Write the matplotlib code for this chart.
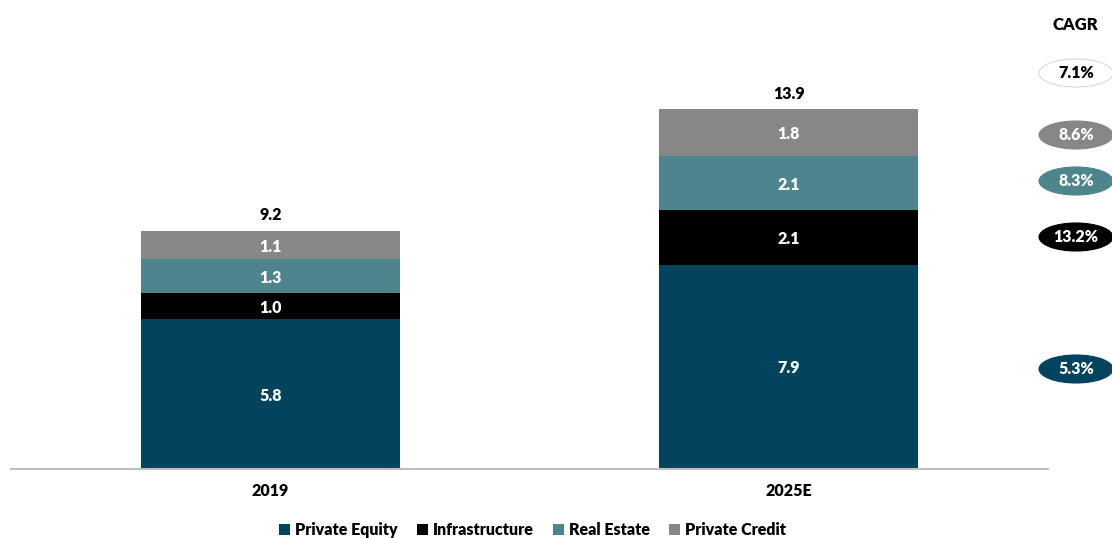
import matplotlib
matplotlib.use("Agg")
import matplotlib.pyplot as plt
from matplotlib.patches import Ellipse

plt.rcParams['font.family'] = ['Lato', 'DejaVu Sans']

years = ["2019", "2025E"]
series = ["Private Equity", "Infrastructure", "Real Estate", "Private Credit"]
private_equity = [5.8, 7.9]
infrastructure = [1.0, 2.1]
real_estate = [1.3, 2.1]
private_credit = [1.1, 1.8]
totals = [9.2, 13.9]
cagr_total = "7.1%"
cagr_series = ["5.3%", "13.2%", "8.3%", "8.6%"]
colors = ["#02435E", "#000000", "#4E858C", "#878787"]

W, H = 1112, 538
FW = "heavy"
fig = plt.figure(figsize=(W / 100, H / 100), dpi=100)
ax = fig.add_axes([11 / W, (H - 469) / H, (1048 - 11) / W, (469 - 20) / H])

values = [private_equity, infrastructure, real_estate, private_credit]
x = list(range(len(years)))
bottoms = [0.0] * len(years)
for name, vals, col in zip(series, values, colors):
    ax.bar(x, vals, width=0.5, bottom=bottoms, color=col, label=name)
    for i, v in enumerate(vals):
        ax.text(x[i], bottoms[i] + v / 2 - 0.06, f"{v:.1f}", ha="center", va="center",
                color="white", fontsize=11.5, fontweight=FW)
    bottoms = [b + v for b, v in zip(bottoms, vals)]

for i, t in enumerate(totals):
    ax.text(x[i], t + 0.3, f"{t:.1f}", ha="center", va="bottom",
            color="black", fontsize=11.5, fontweight=FW)

ax.set_xlim(-0.5, 1.5)
ax.set_ylim(0, 17.35)
ax.set_xticks(x)
ax.set_xticklabels(years, fontsize=11.5, fontweight=FW)
ax.tick_params(axis="x", length=0, pad=10)
ax.set_yticks([])
for s in ["top", "right", "left"]:
    ax.spines[s].set_visible(False)
ax.spines["bottom"].set_color("#BFBFBF")
ax.spines["bottom"].set_linewidth(1.5)

leg = fig.legend(loc="center", bbox_to_anchor=(0.479, (H - 530) / H), ncol=4,
                 frameon=False, fontsize=11.5, handlelength=0.7, handleheight=0.7,
                 handletextpad=0.3, columnspacing=1.2)
for t in leg.get_texts():
    t.set_fontweight(FW)

# CAGR column
fig.text(1075 / W, (H - 25) / H, "CAGR", ha="center", va="center",
         fontsize=12, fontweight=FW)

def badge(y_px, label, face, edge, txt_color):
    e = Ellipse((1076 / W, (H - y_px) / H), 74 / W, 28 / H, transform=fig.transFigure,
                facecolor=face, edgecolor=edge, linewidth=0.8, clip_on=False)
    fig.add_artist(e)
    fig.text(1076 / W, (H - y_px) / H, label, ha="center", va="center",
             fontsize=11.5, fontweight=FW, color=txt_color)

badge(73, cagr_total, "white", "#D9D9D9", "black")
badge(135, cagr_series[3], colors[3], colors[3], "white")
badge(181, cagr_series[2], colors[2], colors[2], "white")
badge(237, cagr_series[1], colors[1], colors[1], "white")
badge(369, cagr_series[0], colors[0], colors[0], "white")

fig.savefig("out.png", dpi=100)
